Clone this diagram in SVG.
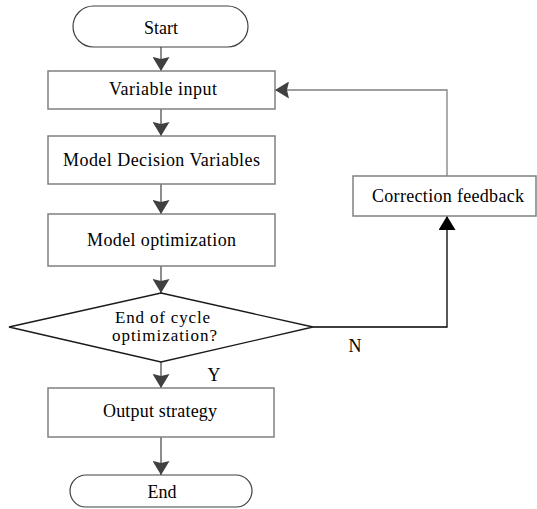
<svg xmlns="http://www.w3.org/2000/svg" width="537" height="509" viewBox="0 0 537 509">
<style>
.box{fill:#fff;stroke:#808080;stroke-width:1.5}
.term{fill:#fff;stroke:#404040;stroke-width:1.2}
.dia{fill:#fff;stroke:#1a1a1a;stroke-width:1.3}
.t{font-family:"Liberation Serif","Times New Roman",serif;font-size:18px;fill:#000;text-anchor:middle}
.s{font-size:17px}
.c{fill:none;stroke:#505050;stroke-width:1.3}
.cg{fill:none;stroke:#808080;stroke-width:1.3}
.cb{fill:none;stroke:#000;stroke-width:1.3}
</style>
<defs>
<marker id="ah" markerWidth="17" markerHeight="17" refX="14" refY="8.5" orient="auto" markerUnits="userSpaceOnUse">
<path d="M0,0 L14,8.5 L0,17 L2,8.5 Z" fill="#404040"/>
</marker>
<marker id="ahb" markerWidth="17" markerHeight="17" refX="14" refY="8.5" orient="auto" markerUnits="userSpaceOnUse">
<path d="M0,0 L14,8.5 L0,17 Z" fill="#000"/>
</marker>
</defs>
<g id="connectors">
<line class="c" x1="161" y1="47" x2="161" y2="71" marker-end="url(#ah)"/>
<line class="c" x1="161" y1="109" x2="161" y2="136" marker-end="url(#ah)"/>
<line class="c" x1="161" y1="184" x2="161" y2="214" marker-end="url(#ah)"/>
<line class="c" x1="161" y1="266" x2="161" y2="293" marker-end="url(#ah)"/>
<line class="c" x1="161" y1="362" x2="161" y2="388" marker-end="url(#ah)"/>
<line class="c" x1="161" y1="437" x2="161" y2="475" marker-end="url(#ah)"/>
<polyline class="cb" points="313,327 447,327 447,216" marker-end="url(#ahb)"/>
<polyline class="cg" points="447,176 447,90 275,90" marker-end="url(#ah)"/>
<text class="t" x="214" y="381">Y</text>
<text class="t" x="355" y="352">N</text>
</g>
<g id="start">
<rect class="term" x="73" y="6" width="175" height="41" rx="20.5" ry="20.5"/>
<text class="t" x="161" y="34">Start</text>
</g>
<g id="variable-input">
<rect class="box" x="48" y="71" width="227" height="38"/>
<text class="t" x="163" y="95" textLength="108" lengthAdjust="spacing">Variable input</text>
</g>
<g id="model-decision-variables">
<rect class="box" x="48" y="136" width="227" height="48"/>
<text class="t" x="161.5" y="166" textLength="197" lengthAdjust="spacing">Model Decision Variables</text>
</g>
<g id="model-optimization">
<rect class="box" x="48" y="214" width="227" height="52"/>
<text class="t" x="161.5" y="246" textLength="149" lengthAdjust="spacing">Model optimization</text>
</g>
<g id="end-of-cycle">
<polygon class="dia" points="161,293 313,327 161,362 9,327"/>
<text class="t s" x="162.5" y="323" textLength="95" lengthAdjust="spacing">End of cycle</text>
<text class="t s" x="164.5" y="341" textLength="105" lengthAdjust="spacing">optimization?</text>
</g>
<g id="output-strategy">
<rect class="box" x="48" y="388" width="226" height="49"/>
<text class="t" x="160" y="417" textLength="114" lengthAdjust="spacing">Output strategy</text>
</g>
<g id="end">
<rect class="term" x="70" y="475" width="182" height="32" rx="16" ry="16"/>
<text class="t" x="162" y="498">End</text>
</g>
<g id="correction-feedback">
<rect class="box" x="353" y="176" width="183" height="40"/>
<text class="t" x="448" y="202" textLength="152" lengthAdjust="spacing">Correction feedback</text>
</g>
</svg>
